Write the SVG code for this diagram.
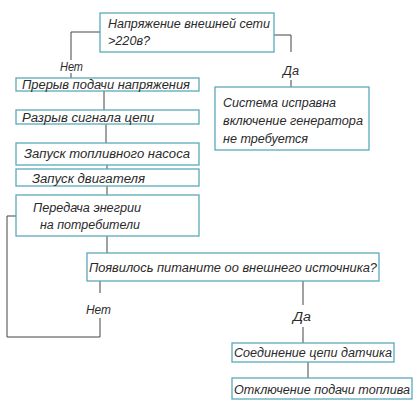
<svg xmlns="http://www.w3.org/2000/svg" width="419" height="406" viewBox="0 0 419 406">
<style>
.box{fill:#fff;stroke:#5aa9b8;stroke-width:1.3}
.ln{fill:none;stroke:#444;stroke-width:1}
text{font-family:"Liberation Sans",Arial,sans-serif;font-style:italic;font-size:12.5px;fill:#2a2a2a}
</style>
<rect width="419" height="406" fill="#fff"/>
<g id="connectors">
<polyline class="ln" points="100,32 71,32 71,60"/>
<line class="ln" x1="71" y1="73" x2="71" y2="78"/>
<polyline class="ln" points="274,35 291,35 291,52"/>
<line class="ln" x1="291" y1="80" x2="291" y2="87"/>
<line class="ln" x1="104" y1="91" x2="104" y2="110"/>
<line class="ln" x1="106" y1="124" x2="106" y2="143"/>
<line class="ln" x1="107" y1="165" x2="107" y2="169"/>
<line class="ln" x1="107" y1="186" x2="107" y2="195"/>
<line class="ln" x1="107" y1="236" x2="107" y2="253"/>
<line class="ln" x1="100" y1="281" x2="100" y2="293"/>
<polyline class="ln" points="100,318 100,337 7,337 7,216 16,216"/>
<line class="ln" x1="303" y1="281" x2="303" y2="305"/>
<line class="ln" x1="303" y1="327" x2="303" y2="343"/>
<line class="ln" x1="308" y1="362" x2="308" y2="378"/>
<text x="60" y="71" textLength="23" lengthAdjust="spacingAndGlyphs">Нет</text>
<text x="283" y="75" textLength="16" lengthAdjust="spacingAndGlyphs">Да</text>
<text x="86" y="314" textLength="25" lengthAdjust="spacingAndGlyphs">Нет</text>
<text x="293" y="321" textLength="18" lengthAdjust="spacingAndGlyphs">Да</text>
</g>
<g id="n_top">
<rect class="box" x="100" y="13" width="174" height="39"/>
<text x="108" y="28" textLength="162" lengthAdjust="spacingAndGlyphs">Напряжение внешней сети</text>
<text x="108" y="45" textLength="42" lengthAdjust="spacingAndGlyphs">&gt;220в?</text>
</g>
<g id="n_ok">
<rect class="box" x="215" y="87" width="154" height="63"/>
<text x="223" y="107" textLength="113" lengthAdjust="spacingAndGlyphs">Система исправна</text>
<text x="223" y="125" textLength="140" lengthAdjust="spacingAndGlyphs">включение генератора</text>
<text x="223" y="143" textLength="85" lengthAdjust="spacingAndGlyphs">не требуется</text>
</g>
<g id="n1">
<rect class="box" x="16" y="78" width="183" height="13"/>
<text x="22" y="89" textLength="168" lengthAdjust="spacingAndGlyphs">Прерыв подачи напряжения</text>
</g>
<g id="n2">
<rect class="box" x="16" y="110" width="183" height="14"/>
<text x="22" y="122" textLength="132" lengthAdjust="spacingAndGlyphs">Разрыв сигнала цепи</text>
</g>
<g id="n3">
<rect class="box" x="16" y="143" width="183" height="22"/>
<text x="24" y="158" textLength="166" lengthAdjust="spacingAndGlyphs">Запуск топливного насоса</text>
</g>
<g id="n4">
<rect class="box" x="16" y="169" width="183" height="17"/>
<text x="32" y="183" textLength="113" lengthAdjust="spacingAndGlyphs">Запуск двигателя</text>
</g>
<g id="n5">
<rect class="box" x="16" y="195" width="183" height="41"/>
<text x="33" y="212" textLength="108" lengthAdjust="spacingAndGlyphs">Передача энегрии</text>
<text x="40" y="229" textLength="100" lengthAdjust="spacingAndGlyphs">на потребители</text>
</g>
<g id="n_dec">
<rect class="box" x="87" y="253" width="292" height="28"/>
<text x="89" y="272" textLength="288" lengthAdjust="spacingAndGlyphs">Появилось питаните оо внешнего источника?</text>
</g>
<g id="n6">
<rect class="box" x="232" y="343" width="162" height="19"/>
<text x="234" y="357" textLength="158" lengthAdjust="spacingAndGlyphs">Соединение цепи датчика</text>
</g>
<g id="n7">
<rect class="box" x="232" y="378" width="180" height="21"/>
<text x="234" y="394" textLength="176" lengthAdjust="spacingAndGlyphs">Отключение подачи топлива</text>
</g>
</svg>
